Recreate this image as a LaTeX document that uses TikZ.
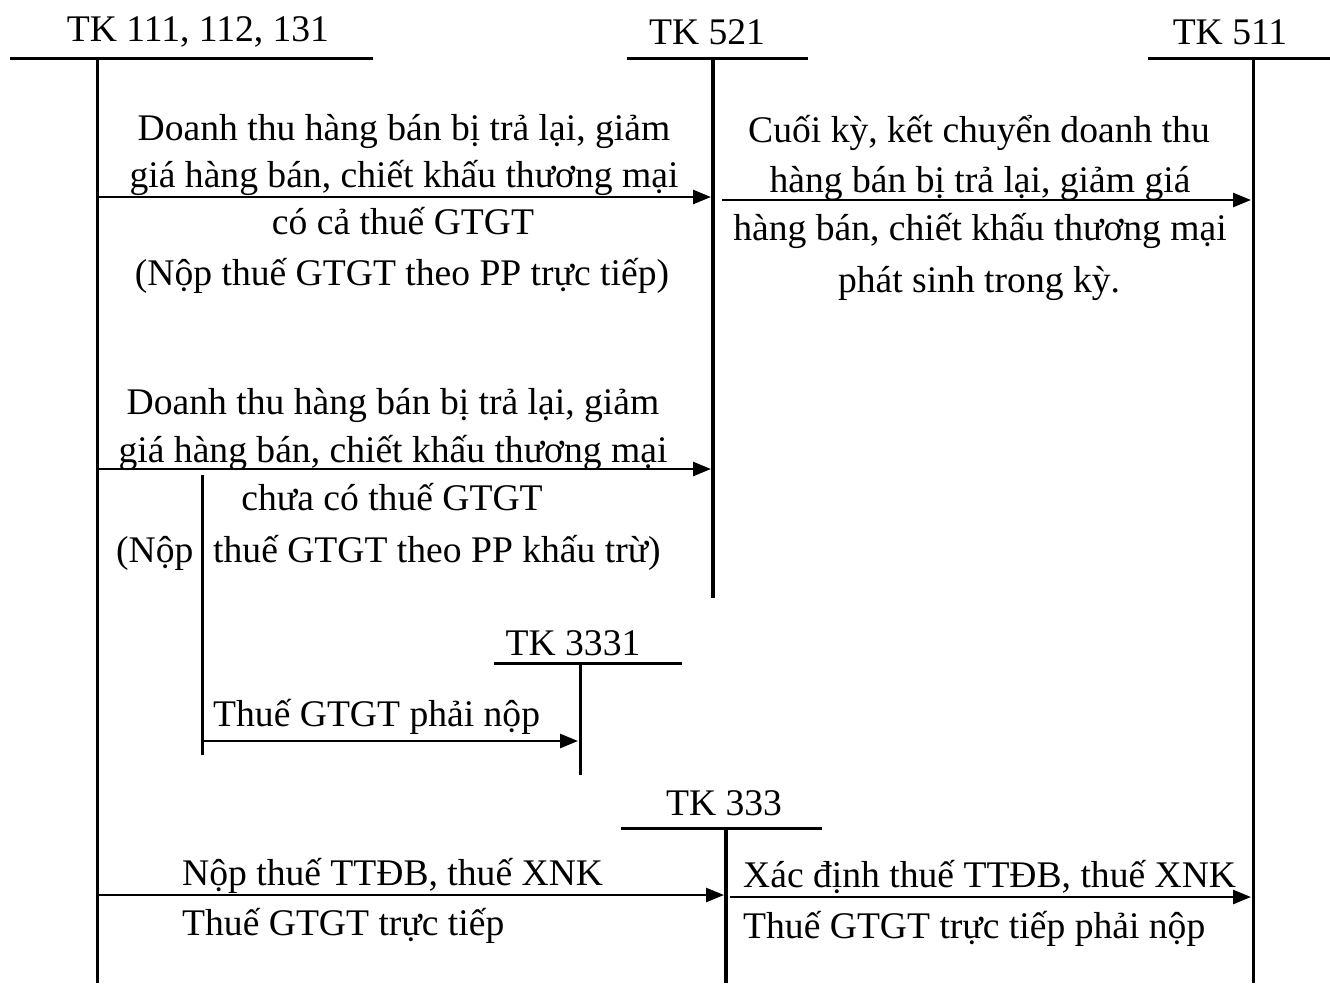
\documentclass[tikz,border=0pt]{standalone}
\usepackage{fontspec}
\setmainfont{Liberation Serif}
\usetikzlibrary{arrows.meta}
\tikzset{
  acct/.style={line width=3pt},
  head/.style={line width=3pt},
  flow/.style={line width=2.6pt,-{Triangle[length=18pt,width=14pt]}},
  lbl/.style={inner sep=0pt,anchor=base,font=\fontsize{37.6}{44}\selectfont},
  lbll/.style={inner sep=0pt,anchor=base west,font=\fontsize{37.6}{44}\selectfont},
}
\begin{document}
\begin{tikzpicture}[x=1pt,y=-1pt]
\useasboundingbox (0,0) rectangle (1330,983);
% account headers
\coordinate (h1a) at (10,58);   \coordinate (h1b) at (373,58);
\coordinate (h2a) at (627,58);  \coordinate (h2b) at (808,58);
\coordinate (h3a) at (1148,58); \coordinate (h3b) at (1330,58);
\coordinate (h4a) at (494,663); \coordinate (h4b) at (682,663);
\coordinate (h5a) at (621,828); \coordinate (h5b) at (822,828);
\draw[head] (h1a) -- (h1b);
\draw[head] (h2a) -- (h2b);
\draw[head] (h3a) -- (h3b);
\draw[head] (h4a) -- (h4b);
\draw[head] (h5a) -- (h5b);
% verticals
\coordinate (v111t) at (97,58);   \coordinate (v111b) at (97,983);
\coordinate (v521t) at (713,58);  \coordinate (v521b) at (713,598);
\coordinate (v511t) at (1253,58); \coordinate (v511b) at (1253,983);
\coordinate (vbrt) at (202,475);  \coordinate (vbrb) at (202,755);
\coordinate (v3331t) at (580,663); \coordinate (v3331b) at (580,775);
\coordinate (v333t) at (726,828); \coordinate (v333b) at (726,983);
\draw[acct] (v111t) -- (v111b);
\draw[acct,line width=3.6pt] (v521t) -- (v521b);
\draw[acct] (v511t) -- (v511b);
\draw[acct] (vbrt) -- (vbrb);
\draw[acct] (v3331t) -- (v3331b);
\draw[acct,line width=3.6pt] (v333t) -- (v333b);
% header labels
\node[lbl] (t111) at (198,41) {TK 111, 112, 131};
\node[lbl] (t521) at (707,44) {TK 521};
\node[lbl] (t511) at (1230,44) {TK 511};
\node[lbl] (t3331) at (573,655) {TK 3331};
\node[lbl] (t333) at (724,815) {TK 333};
% arrows
\coordinate (a1s) at (97,197);  \coordinate (a1e) at (711,197);
\coordinate (a2s) at (722,200); \coordinate (a2e) at (1251,200);
\coordinate (a3s) at (97,469);  \coordinate (a3e) at (711,469);
\coordinate (a4s) at (202,741); \coordinate (a4e) at (578,741);
\coordinate (a5s) at (97,895);  \coordinate (a5e) at (724,895);
\coordinate (a6s) at (730,897); \coordinate (a6e) at (1251,897);
\draw[flow] (a1s) -- (a1e);
\draw[flow] (a2s) -- (a2e);
\draw[flow] (a3s) -- (a3e);
\draw[flow] (a4s) -- (a4e);
\draw[flow] (a5s) -- (a5e);
\draw[flow] (a6s) -- (a6e);
% texts block 1
\node[lbl] (b1l1) at (404,140) {Doanh thu hàng bán bị trả lại, giảm};
\node[lbl] (b1l2) at (404,187) {giá hàng bán, chiết khấu thương mại};
\node[lbl] (b1l3) at (403,234) {có cả thuế GTGT};
\node[lbl] (b1l4) at (402,285) {(Nộp thuế GTGT theo PP trực tiếp)};
% block 2
\node[lbl] (b2l1) at (979,142) {Cuối kỳ, kết chuyển doanh thu};
\node[lbl] (b2l2) at (980,192) {hàng bán bị trả lại, giảm giá};
\node[lbl] (b2l3) at (980,240) {hàng bán, chiết khấu thương mại};
\node[lbl] (b2l4) at (979,292) {phát sinh trong kỳ.};
% block 3
\node[lbl] (b3l1) at (393,414) {Doanh thu hàng bán bị trả lại, giảm};
\node[lbl] (b3l2) at (393,462) {giá hàng bán, chiết khấu thương mại};
\node[lbl] (b3l3) at (392,510) {chưa có thuế GTGT};
\node[lbll] (b3l4a) at (116,562) {(Nộp};
\node[lbll] (b3l4b) at (213,562) {thuế GTGT theo PP khấu trừ)};
% block 4
\node[lbll] (b4) at (213,726) {Thuế GTGT phải nộp};
% block 5
\node[lbll] (b5l1) at (182,885) {Nộp thuế TTĐB, thuế XNK};
\node[lbll] (b5l2) at (182,935) {Thuế GTGT trực tiếp};
% block 6
\node[lbll] (b6l1) at (743,887) {Xác định thuế TTĐB, thuế XNK};
\node[lbll] (b6l2) at (743,938) {Thuế GTGT trực tiếp phải nộp};
\end{tikzpicture}
\end{document}
